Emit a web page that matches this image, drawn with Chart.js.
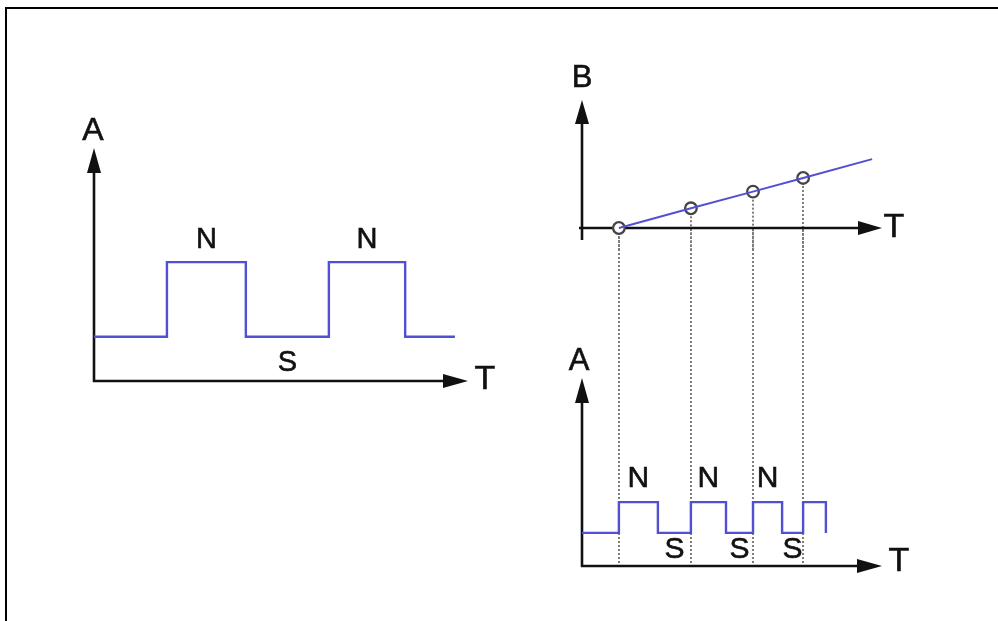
<!DOCTYPE html>
<html>
<head>
<meta charset="utf-8">
<script src="https://cdn.jsdelivr.net/npm/chart.js@4/dist/chart.umd.min.js"></script>
<style>
  html, body { margin: 0; padding: 0; background: #fff; overflow: hidden; }
  #page { position: relative; width: 998px; height: 621px; overflow: hidden; background: #fff; }
  #frame { position: absolute; left: 5px; top: 7px; width: 1100px; height: 800px;
           border-top: 2px solid #000; border-left: 2px solid #000; box-sizing: border-box; }
  canvas { position: absolute; }
</style>
</head>
<body>
<div id="page">
  <div id="frame"></div>
  <canvas id="left" width="440" height="290" style="left:60px;top:110px;width:440px;height:290px"></canvas>
  <canvas id="rightA" width="350" height="364" style="left:560px;top:229px;width:350px;height:364px"></canvas>
  <canvas id="rightB" width="350" height="190" style="left:560px;top:60px;width:350px;height:190px"></canvas>
</div>
<script>
// ---------- DATA ----------
// Left panel: A against T, constant speed
const leftT = [0, 1.95, 1.95, 4.06, 4.06, 6.28, 6.28, 8.32, 8.32, 9.65];
const leftA = [1.9, 1.9, 5.1, 5.1, 1.9, 1.9, 5.1, 5.1, 1.9, 1.9];
const leftPoleLabels = ['', 'N', 'S', 'N', ''];

// Top-right panel: B against T
const sampleT = [1.23, 3.63, 5.7, 7.37];
const sampleB = [0, 1.54, 2.84, 3.91];
const lineEndT = 9.67;
const lineEndB = 5.38;

// Bottom-right panel: A against T, increasing speed
const rightT = [0, 1.23, 1.23, 2.53, 2.53, 3.63, 3.63, 4.8, 4.8, 5.7, 5.7, 6.67, 6.67, 7.37, 7.37, 8.13, 8.13];
const rightA = [1.76, 1.76, 3.4, 3.4, 1.76, 1.76, 3.4, 3.4, 1.76, 1.76, 3.4, 3.4, 1.76, 1.76, 3.4, 3.4, 1.76];
const rightPoleLabels = ['', 'N', 'S', 'N', 'S', 'N', 'S', ''];

// Axis names
const axisNames = { left: ['T', 'A'], topRight: ['T', 'B'], bottomRight: ['T', 'A'] };

// ---------- STYLE ----------
const BLUE = '#5250d2';
const AXIS = '#111111';
const FONT = '"Liberation Sans", Arial, Helvetica, sans-serif';

function pts(xs, ys) { return xs.map((x, i) => ({ x, y: ys[i] })); }

function heavyText(ctx, text, x, y) {
  ctx.fillText(text, x, y);
  ctx.strokeText(text, x, y);
}

const diagramPlugin = {
  id: 'diagram',
  beforeDatasetsDraw(chart, args, o) {
    const { ctx, chartArea: a, scales: { x, y } } = chart;
    ctx.save();
    // dotted guide lines
    if (o.guides) {
      ctx.strokeStyle = '#7d7d7d';
      ctx.lineWidth = 2;
      ctx.setLineDash([2, 2]);
      o.guides.t.forEach((t, i) => {
        const px = Math.round(x.getPixelForValue(t));
        const y0 = o.guides.fromTop ? 0 : y.getPixelForValue(o.guides.v[i]) + 4;
        const y1 = o.guides.fromTop ? a.bottom : chart.height;
        if (y1 - y0 < 3) return;
        ctx.beginPath();
        ctx.moveTo(px, y0);
        ctx.lineTo(px, y1);
        ctx.stroke();
      });
      ctx.setLineDash([]);
    }
    // axes
    ctx.strokeStyle = AXIS;
    ctx.fillStyle = AXIS;
    ctx.lineWidth = 2.6;
    const ox = a.left, oy = a.bottom, h = o.head, hw = o.headHalf;
    ctx.beginPath();
    ctx.moveTo(ox, oy + o.yBelow);
    ctx.lineTo(ox, a.top + h - 2);
    ctx.stroke();
    ctx.beginPath();
    ctx.moveTo(ox - o.xBefore, oy);
    ctx.lineTo(a.right - h + 2, oy);
    ctx.stroke();
    ctx.beginPath();
    ctx.moveTo(ox, a.top);
    ctx.lineTo(ox - hw, a.top + h);
    ctx.lineTo(ox + hw, a.top + h);
    ctx.closePath();
    ctx.fill();
    ctx.beginPath();
    ctx.moveTo(a.right, oy);
    ctx.lineTo(a.right - h, oy - hw);
    ctx.lineTo(a.right - h, oy + hw);
    ctx.closePath();
    ctx.fill();
    // axis names
    ctx.textAlign = 'center';
    ctx.textBaseline = 'middle';
    ctx.lineWidth = 0.6;
    ctx.font = o.axisFont + 'px ' + FONT;
    heavyText(ctx, o.names[1], ox + o.yNameDx, a.top + o.yNameDy);
    ctx.font = o.tFont + 'px ' + FONT;
    heavyText(ctx, o.names[0], a.right + o.xNameDx, oy + o.xNameDy);
    ctx.restore();
  },
  afterDatasetsDraw(chart, args, o) {
    if (!o.poles) return;
    const { ctx, scales: { x, y } } = chart;
    const data = chart.data.datasets[0].data;
    const lo = Math.min(...data.map(p => p.y));
    ctx.save();
    ctx.fillStyle = AXIS;
    ctx.strokeStyle = AXIS;
    ctx.lineWidth = 0.6;
    ctx.textAlign = 'center';
    ctx.textBaseline = 'middle';
    ctx.font = o.poleFont + 'px ' + FONT;
    let seg = 0;
    for (let i = 0; i + 1 < data.length; i++) {
      const p = data[i], q = data[i + 1];
      if (p.y === q.y && p.x !== q.x) {
        const label = o.poles[seg++];
        if (label) {
          const cx = x.getPixelForValue((p.x + q.x) / 2);
          const py = y.getPixelForValue(p.y);
          const cy = p.y === lo ? py + o.sDy : py - o.nDy;
          heavyText(ctx, label, cx, cy);
        }
      }
    }
    ctx.restore();
  }
};

function baseOptions(padding, diagram) {
  return {
    responsive: false,
    animation: false,
    events: [],
    layout: { padding },
    plugins: { legend: { display: false }, tooltip: { enabled: false }, diagram },
    scales: {
      x: { type: 'linear', min: 0, max: 10, display: false },
      y: { type: 'linear', min: 0, max: 10, display: false }
    }
  };
}

// Left panel
new Chart(document.getElementById('left'), {
  type: 'line',
  data: { datasets: [{ data: pts(leftT, leftA), borderColor: BLUE, borderWidth: 2.4, pointRadius: 0, tension: 0, fill: false, clip: false }] },
  options: baseOptions({ left: 34, right: 32, top: 38, bottom: 19 }, {
    names: axisNames.left, head: 25, headHalf: 7, yBelow: 1, xBefore: 1,
    axisFont: 32, tFont: 34, yNameDx: -1, yNameDy: -17, xNameDx: 17, xNameDy: -1,
    poles: leftPoleLabels, poleFont: 29, nDy: 22, sDy: 26
  }),
  plugins: [diagramPlugin]
});

// Bottom-right panel (drawn first, guides run up to the top panel)
new Chart(document.getElementById('rightA'), {
  type: 'line',
  data: { datasets: [{ data: pts(rightT, rightA), borderColor: BLUE, borderWidth: 2.4, pointRadius: 0, tension: 0, fill: false, clip: false }] },
  options: baseOptions({ left: 22, right: 28, top: 149, bottom: 27 }, {
    names: axisNames.bottomRight, head: 25, headHalf: 7, yBelow: 1, xBefore: 1,
    axisFont: 31, tFont: 34, yNameDx: -3, yNameDy: -17, xNameDx: 17, xNameDy: -4,
    poles: rightPoleLabels, poleFont: 30, nDy: 23, sDy: 17,
    guides: { t: sampleT, fromTop: true }
  }),
  plugins: [diagramPlugin]
});

// Top-right panel
new Chart(document.getElementById('rightB'), {
  type: 'line',
  data: {
    datasets: [
      { data: pts(sampleT.concat([lineEndT]), sampleB.concat([lineEndB])), borderColor: BLUE, borderWidth: 2, pointRadius: 0, tension: 0, fill: false, clip: false },
      { data: pts(sampleT, sampleB), showLine: false, clip: false, pointRadius: 5.8, pointBackgroundColor: '#ffffff', pointBorderColor: '#454545', pointBorderWidth: 2.3 }
    ]
  },
  options: baseOptions({ left: 22, right: 28, top: 40, bottom: 22 }, {
    names: axisNames.topRight, head: 24, headHalf: 7, yBelow: 12, xBefore: 3,
    axisFont: 31, tFont: 34, yNameDx: 0, yNameDy: -22, xNameDx: 12, xNameDy: 0,
    guides: { t: sampleT, v: sampleB, fromTop: false }
  }),
  plugins: [diagramPlugin]
});
</script>
</body>
</html>
